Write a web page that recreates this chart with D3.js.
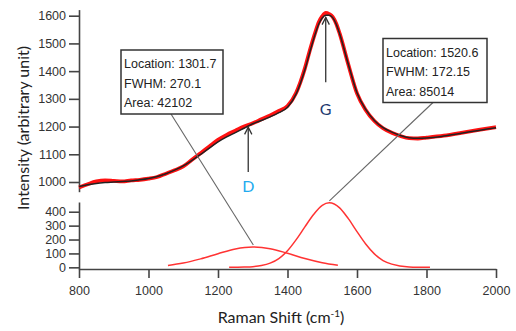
<!DOCTYPE html>
<html>
<head>
<meta charset="utf-8">
<script src="https://cdn.jsdelivr.net/npm/d3@7"></script>
<style>
  html, body { margin: 0; padding: 0; background: #fff; }
  svg { display: block; }
</style>
</head>
<body>
<div id="chart"></div>
<script>
// raman shift sample positions (cm-1)
const shift = [800, 825, 850, 875, 900, 925, 950, 975, 1000, 1025, 1050, 1075, 1100, 1125, 1150, 1175,
  1200, 1225, 1250, 1275, 1300, 1325, 1350, 1375, 1400, 1425, 1450, 1465, 1480, 1490, 1500, 1510, 1520,
  1530, 1540, 1550, 1575, 1600, 1625, 1650, 1675, 1700, 1725, 1750, 1775, 1800, 1850, 1900, 1950, 2000];
// fitted spectrum (black)
const fit = [984, 990, 995, 998, 1000, 1002, 1004, 1008, 1013, 1020, 1030, 1043, 1058, 1078, 1100, 1122,
  1145, 1163, 1178, 1194, 1210, 1222, 1235, 1250, 1270, 1318, 1405, 1472, 1535, 1570, 1592, 1602, 1602,
  1593, 1570, 1535, 1425, 1322, 1262, 1222, 1196, 1180, 1168, 1160, 1158, 1159, 1166, 1176, 1186, 1196];
// measured spectrum (red)
const measured = [980, 992, 1002, 1006, 1004, 1002, 1006, 1008, 1012, 1018, 1030, 1042, 1056, 1080, 1104, 1128,
  1152, 1170, 1185, 1200, 1212, 1226, 1240, 1256, 1274, 1322, 1410, 1478, 1540, 1576, 1598, 1610, 1606,
  1596, 1572, 1536, 1424, 1320, 1260, 1220, 1194, 1178, 1166, 1158, 1157, 1160, 1167, 1177, 1188, 1198];

// D band component
const dShift = [1056, 1100, 1150, 1200, 1250, 1300, 1350, 1400, 1450, 1500, 1545];
const dBand  = [14, 31, 61, 98, 132, 146, 134, 101, 63, 33, 15];
// G band component
const gShift = [1232, 1275, 1300, 1325, 1350, 1375, 1400, 1425, 1450, 1475, 1500, 1520, 1550, 1575, 1600,
  1625, 1650, 1675, 1700, 1750, 1810];
const gBand  = [0, 2, 5, 13, 30, 63, 119, 199, 291, 380, 446, 464, 428, 350, 257, 168, 97, 49, 23, 3, 0];

const upperTicks = [1000, 1100, 1200, 1300, 1400, 1500, 1600];
const lowerTicks = [0, 100, 200, 300, 400];
const xTicks = [800, 1000, 1200, 1400, 1600, 1800, 2000];

const peakLabels = [
  { name: "D", loc: 1301.7, fwhm: "270.1", area: "42102" },
  { name: "G", loc: 1520.6, fwhm: "172.15", area: "85014" }
];

const W = 516, H = 331;
const svg = d3.select("#chart").append("svg").attr("width", W).attr("height", H);

const x = d3.scaleLinear().domain([800, 2000]).range([79, 496]);
const yUp = d3.scaleLinear().domain([965, 1622]).range([191.7, 9.6]);
const yLow = d3.scaleLinear().domain([-12, 470]).range([269, 202]);

const tickFont = "'Liberation Sans', Arial, sans-serif";
const axisColor = "#444";
const fmt = d3.format("d");

function styleAxis(g) {
  g.selectAll("path.domain").attr("stroke", axisColor).attr("stroke-width", 1.6);
  g.selectAll(".tick line").attr("stroke", axisColor).attr("stroke-width", 1.6);
  g.selectAll(".tick text").attr("fill", "#333").style("font-family", tickFont).style("font-size", "12.5px");
}

svg.append("g").attr("transform", "translate(79,0)")
  .call(d3.axisLeft(yUp).tickValues(upperTicks).tickFormat(fmt).tickSize(10).tickSizeOuter(0).tickPadding(3))
  .call(styleAxis);

svg.append("g").attr("transform", "translate(79,0)")
  .call(d3.axisLeft(yLow).tickValues(lowerTicks).tickFormat(fmt).tickSize(10).tickSizeOuter(0).tickPadding(3))
  .call(styleAxis);

svg.append("g").attr("transform", "translate(0,269)")
  .call(d3.axisBottom(x).tickValues(xTicks).tickFormat(fmt).tickSize(9).tickSizeOuter(0).tickPadding(8))
  .call(styleAxis);

// axis titles
svg.append("text")
  .attr("transform", "translate(29,128) rotate(-90)")
  .attr("text-anchor", "middle")
  .style("font-family", "Lato, 'Open Sans', sans-serif")
  .style("font-size", "16px")
  .attr("fill", "#222")
  .text("Intensity (arbitrary unit)");

const xt = svg.append("text")
  .attr("x", 281).attr("y", 323)
  .attr("text-anchor", "middle")
  .style("font-family", "Lato, 'Open Sans', sans-serif")
  .style("font-size", "16px")
  .attr("fill", "#222");
xt.append("tspan").text("Raman Shift (cm");
xt.append("tspan").attr("dy", -6).style("font-size", "10px").text("-1");
xt.append("tspan").attr("dy", 6).text(")");

// spectra
const lineUp = (ys) => d3.line().x((d, i) => x(shift[i])).y((d) => yUp(d)).curve(d3.curveMonotoneX)(ys);

svg.append("path").attr("d", lineUp(measured))
  .attr("fill", "none").attr("stroke", "#ff1111").attr("stroke-width", 3.8).attr("stroke-linejoin", "round");
svg.append("path").attr("d", lineUp(fit))
  .attr("fill", "none").attr("stroke", "#222").attr("stroke-width", 1.5);

// components
const lineLow = (xs, ys) => d3.line().x((d, i) => x(xs[i])).y((d) => yLow(d)).curve(d3.curveMonotoneX)(ys);
svg.append("path").attr("d", lineLow(dShift, dBand))
  .attr("fill", "none").attr("stroke", "#ff3333").attr("stroke-width", 1.5);
svg.append("path").attr("d", lineLow(gShift, gBand))
  .attr("fill", "none").attr("stroke", "#ff3333").attr("stroke-width", 1.5);

// arrows
const defs = svg.append("defs");
defs.append("marker").attr("id", "arr")
  .attr("viewBox", "0 0 10 10").attr("refX", 9).attr("refY", 5)
  .attr("markerWidth", 7).attr("markerHeight", 7).attr("orient", "auto")
  .append("path").attr("d", "M1,1 L9,5 L1,9").attr("fill", "none").attr("stroke", "#333").attr("stroke-width", 1.4);

const arrows = [
  { x: 1287, y0: 1036, y1: 1198, label: "D", ly: 978, color: "#22aaee" },
  { x: 1510, y0: 1360, y1: 1594, label: "G", ly: 1258, color: "#1f3b70" }
];
arrows.forEach(a => {
  svg.append("line")
    .attr("x1", x(a.x)).attr("x2", x(a.x))
    .attr("y1", yUp(a.y0)).attr("y2", yUp(a.y1))
    .attr("stroke", "#333").attr("stroke-width", 1.3)
    .attr("marker-end", "url(#arr)");
  svg.append("text")
    .attr("x", x(a.x)).attr("y", yUp(a.ly))
    .attr("text-anchor", "middle").attr("dominant-baseline", "middle")
    .style("font-family", "Lato, 'Open Sans', sans-serif").style("font-size", "16px")
    .attr("fill", a.color).text(a.label);
});

// annotation boxes with leader lines
const boxes = [
  { x: 121, y: 50, w: 102, h: 64, ax: 171, peak: peakLabels[0], peakY: dBand[5] },
  { x: 383, y: 38.5, w: 104, h: 64, ax: 433, peak: peakLabels[1], peakY: gBand[11] }
];
boxes.forEach(b => {
  svg.append("line")
    .attr("x1", b.ax).attr("y1", b.y + b.h)
    .attr("x2", x(b.peak.loc)).attr("y2", yLow(b.peakY) - 2)
    .attr("stroke", "#666").attr("stroke-width", 1.1);
  svg.append("rect")
    .attr("x", b.x).attr("y", b.y).attr("width", b.w).attr("height", b.h)
    .attr("fill", "#fff").attr("stroke", "#333").attr("stroke-width", 1.5);
  const lines = ["Location: " + b.peak.loc.toFixed(1), "FWHM: " + b.peak.fwhm, "Area: " + b.peak.area];
  lines.forEach((t, i) => {
    svg.append("text")
      .attr("x", b.x + 3).attr("y", b.y + 15 + i * 19.5)
      .attr("dominant-baseline", "middle")
      .style("font-family", tickFont).style("font-size", "12.5px")
      .attr("fill", "#222").text(t);
  });
});
</script>
</body>
</html>
